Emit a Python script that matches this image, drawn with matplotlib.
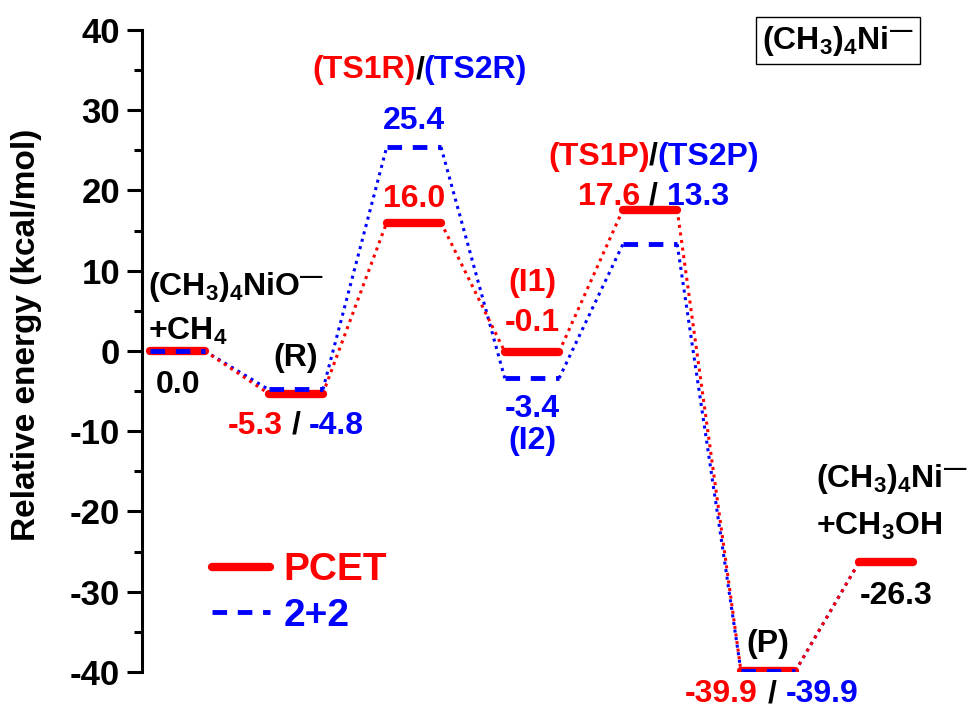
import numpy as np
import matplotlib.pyplot as plt
from matplotlib.lines import Line2D

plt.rcParams['font.family'] = ['Liberation Sans', 'DejaVu Sans']
plt.rcParams['font.weight'] = 'bold'
plt.rcParams['mathtext.fontset'] = 'custom'
plt.rcParams['mathtext.rm'] = 'Liberation Sans:bold'
plt.rcParams['mathtext.bf'] = 'Liberation Sans:bold'
plt.rcParams['mathtext.default'] = 'rm'
plt.rcParams['axes.unicode_minus'] = False

# energies of each stationary point (kcal/mol)
pcet = [0.0, -5.3, 16.0, -0.1, 17.6, -39.9, -26.3]
two2 = [0.0, -4.8, 25.4, -3.4, 13.3, -39.9, -26.3]
pos = np.arange(len(pcet))
half = 0.23  # half width of a level

red = '#ff0000'
blue = '#0000ff'

fig = plt.figure(figsize=(9.74, 7.13), dpi=100)
ax = fig.add_axes([0.146, 0.0575, 0.81, 0.9005])

# dotted connectors
for e, c in [(two2, blue), (pcet, red)]:
    for i in range(len(e) - 1):
        ax.plot([pos[i] + half, pos[i + 1] - half], [e[i], e[i + 1]],
                ls=(0, (1, 1.5)), lw=2.2, color=c, zorder=2)

# levels
for i in range(len(pcet)):
    if i == len(pcet) - 1:
        zb, zr = 3, 4
    else:
        zb, zr = 4, 3
    ax.plot([pos[i] - half, pos[i] + half], [pcet[i], pcet[i]], color=red,
            lw=6, solid_capstyle='round', zorder=zr)
    ax.plot([pos[i] - half, pos[i] + half], [two2[i], two2[i]], color=blue,
            lw=3.5, ls=(0, (3, 2.2)), zorder=zb)

ax.set_xlim(-0.3, 6.38)
ax.set_ylim(-40, 40)
for s in ['top', 'right', 'bottom']:
    ax.spines[s].set_visible(False)
ax.spines['left'].set_linewidth(2.2)
ax.set_xticks([])
ax.set_yticks(np.arange(-40, 41, 10))
ax.set_yticks(np.arange(-35, 40, 10), minor=True)
ax.tick_params(axis='y', which='major', length=11, width=2.2, labelsize=25, pad=5)
ax.tick_params(axis='y', which='minor', length=6, width=2.2)
for t in ax.get_yticklabels():
    t.set_fontweight('bold')
ax.set_ylabel('Relative energy (kcal/mol)', fontsize=24, fontweight='bold')
ax.yaxis.set_label_coords(-0.127, 0.525)

fs = 23
kw = dict(fontsize=fs, fontweight='bold', va='center', clip_on=False)

def split_label(x, y, left, right, cl, cr, gap=0.05, sep='/'):
    ax.text(x, y, sep, ha='center', color='black', **kw)
    ax.text(x - gap, y, left, ha='right', color=cl, **kw)
    ax.text(x + gap, y, right, ha='left', color=cr, **kw)

# reactants
ax.text(-0.25, 8.0, '(CH$_3$)$_4$NiO$^{\u2014}$', ha='left', color='black', **kw)
ax.text(-0.25, 2.4, '+CH$_4$', ha='left', color='black', **kw)
ax.text(pos[0], -4.3, '0.0', ha='center', color='black', **kw)

# R
ax.text(pos[1], -0.9, '(R)', ha='center', color='black', **kw)
split_label(pos[1], -9.3, '-5.3', '-4.8', red, blue, gap=0.11)

# TS1R / TS2R
split_label(pos[2] + 0.05, 35.0, '(TS1R)', '(TS2R)', red, blue, gap=0.03)
ax.text(pos[2], 28.6, '25.4', ha='center', color=blue, **kw)
ax.text(pos[2], 18.9, '16.0', ha='center', color=red, **kw)

# I1 / I2
ax.text(pos[3], 8.5, '(I1)', ha='center', color=red, **kw)
ax.text(pos[3], 3.5, '-0.1', ha='center', color=red, **kw)
ax.text(pos[3], -7.2, '-3.4', ha='center', color=blue, **kw)
ax.text(pos[3], -11.2, '(I2)', ha='center', color=blue, **kw)

# TS1P / TS2P
split_label(pos[4] + 0.03, 24.2, '(TS1P)', '(TS2P)', red, blue, gap=0.03)
split_label(pos[4] + 0.03, 19.2, '17.6', '13.3', red, blue, gap=0.11)

# P
ax.text(pos[5], -36.5, '(P)', ha='center', color='black', **kw)
split_label(pos[5] + 0.03, -42.8, '-39.9', '-39.9', red, blue, gap=0.12)

# products
ax.text(pos[6] + 0.05, -16.0, '(CH$_3$)$_4$Ni$^{\u2014}$', ha='center', color='black', **kw)
ax.text(pos[6] - 0.06, -21.9, '+CH$_3$OH', ha='center', color='black', **kw)
ax.text(pos[6] + 0.08, -28.6, '-26.3', ha='center', color='black', va='top',
        fontsize=fs, fontweight='bold', clip_on=False)

# system label
ax.text(0.978, 0.983, '(CH$_3$)$_4$Ni$^{\u2014}$', transform=ax.transAxes, ha='right',
        va='center', fontsize=23, fontweight='bold',
        bbox=dict(boxstyle='square,pad=0.2', fc='white', ec='black', lw=1))

handles = [Line2D([], [], color=red, lw=6, solid_capstyle='round'),
           Line2D([], [], color=blue, lw=3.5, ls=(0, (3, 2.2)))]
leg = ax.legend(handles, ['PCET', '2+2'], loc='center left',
                bbox_to_anchor=(0.088, 0.123), frameon=False,
                handlelength=1.5, handletextpad=0.35, labelspacing=0.25,
                borderpad=0, borderaxespad=0, labelcolor=[red, blue],
                prop={'weight': 'bold', 'size': 28})

fig.savefig('out.png', dpi=100)
